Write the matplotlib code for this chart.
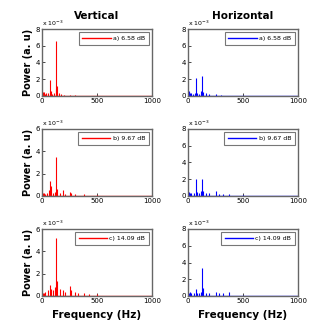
import matplotlib
matplotlib.use("Agg")
import matplotlib.pyplot as plt

# Peak lists (frequency in Hz, power in units of 10^-x)
va_f = [5, 12, 20, 28, 40, 55, 70, 78, 95, 110, 125, 130, 138, 150, 170, 200, 250, 300]
va_p = [0.5, 0.3, 0.45, 0.2, 0.3, 0.3, 1.9, 0.6, 0.2, 0.3, 0.8, 6.6, 1.2, 0.3, 0.2, 0.15, 0.15, 0.1]
ha_f = [5, 12, 20, 30, 45, 60, 70, 80, 100, 120, 130, 140, 160, 190, 250, 300]
ha_p = [0.5, 0.6, 0.4, 0.3, 0.2, 0.3, 2.1, 0.3, 0.2, 0.6, 2.4, 0.5, 0.3, 0.2, 0.25, 0.1]
vb_f = [5, 15, 30, 45, 60, 70, 80, 100, 120, 130, 140, 160, 190, 210, 250, 260, 300, 380, 500]
vb_p = [0.3, 0.25, 0.2, 0.3, 0.5, 1.3, 0.9, 0.3, 0.4, 3.5, 0.6, 0.3, 0.5, 0.2, 0.4, 0.3, 0.15, 0.15, 0.1]
hb_f = [5, 15, 30, 50, 70, 80, 100, 120, 130, 140, 160, 190, 250, 280, 320, 370, 500]
hb_p = [0.5, 0.4, 0.3, 0.3, 2.0, 0.5, 0.4, 0.6, 2.0, 0.6, 0.3, 0.3, 0.6, 0.2, 0.2, 0.2, 0.1]
vc_f = [5, 15, 30, 50, 70, 80, 100, 115, 130, 140, 160, 190, 210, 250, 260, 300, 330, 380, 430, 500]
vc_p = [0.3, 0.3, 0.4, 0.5, 1.0, 0.6, 0.5, 0.8, 5.2, 1.3, 0.6, 0.5, 0.4, 0.9, 0.5, 0.4, 0.3, 0.3, 0.2, 0.2]
hc_f = [5, 15, 30, 50, 70, 80, 100, 120, 130, 140, 160, 190, 250, 280, 320, 370]
hc_p = [0.4, 0.5, 0.3, 0.3, 0.8, 0.4, 0.3, 0.5, 3.4, 0.9, 0.4, 0.3, 0.5, 0.3, 0.3, 0.5]

labels = ["a) 6.58 dB", "b) 9.67 dB", "c) 14.09 dB"]
ylims = [[8, 8], [6, 8], [6, 8]]
xticks = [0, 500, 1000]

data = [[(va_f, va_p), (ha_f, ha_p)],
        [(vb_f, vb_p), (hb_f, hb_p)],
        [(vc_f, vc_p), (hc_f, hc_p)]]
colors = ["#ff0000", "#0000ff"]

fig = plt.figure(figsize=(3.32, 3.33), dpi=100)
W, H = 332, 333
col_x = [42, 188]
row_y = [(29, 96), (129, 196), (229, 296)]
aw = 110

for r in range(3):
    for c in range(2):
        y0, y1 = row_y[r]
        ax = fig.add_axes([col_x[c] / W, 1 - y1 / H, aw / W, (y1 - y0) / H])
        f, p = data[r][c]
        col = colors[c]
        ax.vlines(f, 0, p, color=col, lw=0.8)
        ax.plot([0, 1000], [0.02, 0.02], color=col, lw=1.0, label=labels[r])
        ax.set_xlim(0, 1000)
        ax.set_ylim(0, ylims[r][c])
        ax.set_xticks(xticks)
        ax.set_yticks(range(0, ylims[r][c] + 1, 2))
        ax.tick_params(labelsize=5, length=2, width=0.5, pad=1.5, direction="in")
        for s in ax.spines.values():
            s.set_color("#666666")
            s.set_linewidth(1.0)
        ax.text(0.0, 1.02, r"x 10$^{-3}$", transform=ax.transAxes, fontsize=4.5,
                ha="left", va="bottom")
        leg = ax.legend(loc="upper right", fontsize=4.5, frameon=True, fancybox=False,
                        handlelength=4.5, borderpad=0.6, handletextpad=0.4,
                        borderaxespad=0.5)
        leg.get_frame().set_edgecolor("#555555")
        leg.get_frame().set_linewidth(0.8)
        if c == 0:
            ax.set_ylabel("Power (a. u)", fontsize=7, fontweight="bold", labelpad=2)
        if r == 0:
            ax.set_title("Vertical" if c == 0 else "Horizontal", fontsize=7.5,
                         fontweight="bold", pad=7)
        if r == 2:
            ax.set_xlabel("Frequency (Hz)", fontsize=7.5, fontweight="bold", labelpad=4)

fig.savefig("out.png", dpi=100)
